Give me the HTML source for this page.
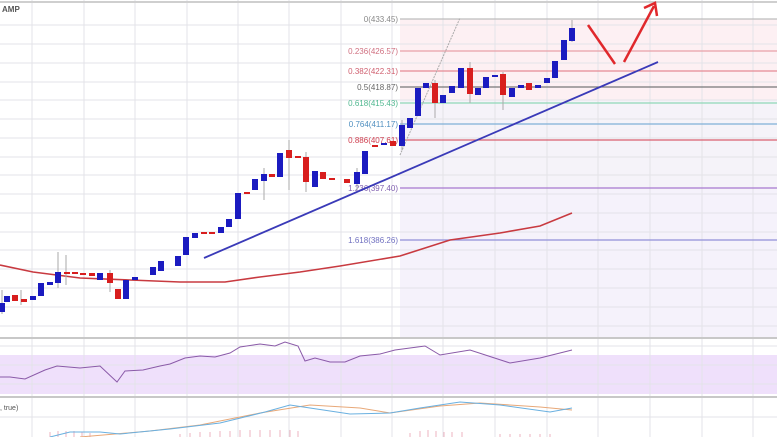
<!DOCTYPE html>
<html><head><meta charset="utf-8"><style>
html,body{margin:0;padding:0;background:#fff;}
svg{display:block;font-family:"Liberation Sans",sans-serif;}
</style></head><body>
<svg width="777" height="437" viewBox="0 0 777 437" xmlns="http://www.w3.org/2000/svg">
<rect width="777" height="437" fill="#fff"/>
<!-- fib shaded region -->
<rect x="400" y="19" width="377" height="318" fill="#fdf0f3"/>
<rect x="400" y="100" width="377" height="90" fill="#f1f4fb" opacity="0.7"/>
<rect x="400" y="190" width="377" height="147" fill="#f5f2fb"/>
<!-- RSI band -->
<rect x="0" y="355" width="777" height="39" fill="#efe0fb"/>
<!-- grid -->
<g stroke="#e3e3e8" stroke-width="1">
<line x1="32" y1="0" x2="32" y2="437"/><line x1="84" y1="0" x2="84" y2="437"/>
<line x1="135" y1="0" x2="135" y2="437"/><line x1="187" y1="0" x2="187" y2="437"/>
<line x1="238" y1="0" x2="238" y2="437"/><line x1="289" y1="0" x2="289" y2="437"/>
<line x1="341" y1="0" x2="341" y2="437"/><line x1="392" y1="0" x2="392" y2="437"/>
<line x1="443" y1="0" x2="443" y2="437"/><line x1="495" y1="0" x2="495" y2="437"/>
<line x1="547" y1="0" x2="547" y2="437"/><line x1="598" y1="0" x2="598" y2="437"/>
<line x1="650" y1="0" x2="650" y2="437"/><line x1="702" y1="0" x2="702" y2="437"/>
<line x1="753" y1="0" x2="753" y2="437"/>
<line x1="0" y1="25" x2="777" y2="25"/><line x1="0" y1="44" x2="777" y2="44"/>
<line x1="0" y1="63" x2="777" y2="63"/><line x1="0" y1="82" x2="777" y2="82"/>
<line x1="0" y1="100" x2="777" y2="100"/><line x1="0" y1="119" x2="777" y2="119"/>
<line x1="0" y1="138" x2="777" y2="138"/><line x1="0" y1="157" x2="777" y2="157"/>
<line x1="0" y1="175" x2="777" y2="175"/><line x1="0" y1="194" x2="777" y2="194"/>
<line x1="0" y1="213" x2="777" y2="213"/><line x1="0" y1="232" x2="777" y2="232"/>
<line x1="0" y1="250" x2="777" y2="250"/><line x1="0" y1="269" x2="777" y2="269"/>
<line x1="0" y1="288" x2="777" y2="288"/><line x1="0" y1="307" x2="777" y2="307"/>
<line x1="0" y1="326" x2="777" y2="326"/>
<line x1="0" y1="346" x2="777" y2="346"/><line x1="0" y1="365" x2="777" y2="365"/>
<line x1="0" y1="384" x2="777" y2="384"/><line x1="0" y1="417" x2="777" y2="417"/>
</g>
<line x1="0" y1="2" x2="777" y2="2" stroke="#cfcfcf" stroke-width="2"/>
<line x1="0" y1="338" x2="777" y2="338" stroke="#c8c8c8" stroke-width="2"/>
<line x1="0" y1="397" x2="777" y2="397" stroke="#c8c8c8" stroke-width="2"/>
<!-- fib lines -->
<g stroke-width="1.2">
<line x1="400" y1="19" x2="777" y2="19" stroke="#bdbdbd"/>
<line x1="400" y1="51" x2="777" y2="51" stroke="#e8a0a8"/>
<line x1="400" y1="71" x2="777" y2="71" stroke="#e58a95"/>
<line x1="400" y1="87" x2="777" y2="87" stroke="#777"/>
<line x1="400" y1="103" x2="777" y2="103" stroke="#8fd8b8"/>
<line x1="400" y1="124" x2="777" y2="124" stroke="#7fb0d8"/>
<line x1="400" y1="140" x2="777" y2="140" stroke="#d96070"/>
<line x1="400" y1="188" x2="777" y2="188" stroke="#a878d0"/>
<line x1="400" y1="240" x2="777" y2="240" stroke="#9090d8"/>
</g>
<g font-size="8" text-anchor="end">
<text x="398" y="22" fill="#888">0(433.45)</text>
<text x="398" y="54" fill="#d07080">0.236(426.57)</text>
<text x="398" y="74" fill="#d06070">0.382(422.31)</text>
<text x="398" y="90" fill="#666">0.5(418.87)</text>
<text x="398" y="106" fill="#50b890">0.618(415.43)</text>
<text x="398" y="127" fill="#5090c0">0.764(411.17)</text>
<text x="398" y="143" fill="#d04050">0.886(407.61)</text>
<text x="398" y="191" fill="#8060b0">1.236(397.40)</text>
<text x="398" y="243" fill="#7070c0">1.618(386.26)</text>
</g>
<text x="2" y="12" font-size="8" fill="#555" font-weight="bold">AMP</text>
<!-- dotted line -->
<line x1="400" y1="155" x2="460" y2="18" stroke="#aaa" stroke-width="1" stroke-dasharray="2,1"/>
<!-- MA -->
<polyline fill="none" stroke="#c83a40" stroke-width="1.6" points="0,265 33,272 80,278 130,280 180,282 225,282 260,277 300,272 340,266 400,256 450,240 500,233 540,226 572,213"/>
<!-- trend line -->
<line x1="204" y1="258" x2="658" y2="62" stroke="#3a3ab8" stroke-width="1.8"/>
<!-- arrows -->
<g stroke="#e0282c" stroke-width="2.5" fill="none">
<line x1="588" y1="25" x2="615" y2="64"/>
<line x1="624" y1="62" x2="654" y2="6"/>
<polyline points="644,8 655,3 657,16"/>
</g>
<!-- candles -->
<g stroke="#aaa" stroke-width="1">
<line x1="2" y1="290" x2="2" y2="314"/><line x1="21" y1="290" x2="21" y2="305"/>
<line x1="58" y1="252" x2="58" y2="288"/><line x1="66" y1="255" x2="66" y2="285"/>
<line x1="110" y1="270" x2="110" y2="292"/><line x1="289" y1="140" x2="289" y2="190"/>
<line x1="306" y1="152" x2="306" y2="192"/><line x1="264" y1="168" x2="264" y2="200"/>
<line x1="435" y1="80" x2="435" y2="118"/><line x1="470" y1="62" x2="470" y2="103"/>
<line x1="503" y1="72" x2="503" y2="110"/><line x1="572" y1="20" x2="572" y2="42"/>
<line x1="402" y1="120" x2="402" y2="150"/><line x1="357" y1="168" x2="357" y2="190"/>
</g>
<g fill="#1b1bc0">
<rect x="-1" y="303" width="6" height="9"/><rect x="4" y="296" width="6" height="6"/>
<rect x="30" y="296" width="6" height="4"/><rect x="38" y="283" width="6" height="13"/>
<rect x="47" y="282" width="6" height="3"/><rect x="55" y="272" width="6" height="11"/>
<rect x="97" y="273" width="6" height="7"/><rect x="123" y="280" width="6" height="19"/>
<rect x="132" y="277" width="6" height="3"/><rect x="150" y="267" width="6" height="8"/>
<rect x="158" y="261" width="6" height="10"/><rect x="175" y="256" width="6" height="10"/>
<rect x="183" y="237" width="6" height="18"/><rect x="192" y="233" width="6" height="5"/>
<rect x="218" y="227" width="6" height="6"/><rect x="226" y="219" width="6" height="8"/>
<rect x="235" y="193" width="6" height="26"/><rect x="252" y="179" width="6" height="11"/>
<rect x="261" y="174" width="6" height="7"/><rect x="277" y="153" width="6" height="24"/>
<rect x="312" y="171" width="6" height="16"/><rect x="354" y="172" width="6" height="12"/>
<rect x="362" y="151" width="6" height="23"/><rect x="381" y="143" width="6" height="2"/>
<rect x="399" y="125" width="6" height="21"/><rect x="407" y="118" width="6" height="10"/>
<rect x="415" y="88" width="6" height="28"/><rect x="423" y="83" width="6" height="5"/>
<rect x="440" y="95" width="6" height="8"/><rect x="449" y="86" width="6" height="7"/>
<rect x="458" y="68" width="6" height="20"/><rect x="475" y="88" width="6" height="7"/>
<rect x="483" y="77" width="6" height="11"/><rect x="492" y="75" width="6" height="2"/>
<rect x="509" y="88" width="6" height="9"/><rect x="518" y="85" width="6" height="3"/>
<rect x="535" y="85" width="6" height="3"/><rect x="544" y="78" width="6" height="5"/>
<rect x="552" y="61" width="6" height="17"/><rect x="561" y="40" width="6" height="20"/>
<rect x="569" y="28" width="6" height="13"/>
</g>
<g fill="#d81e1e">
<rect x="12" y="295" width="6" height="6"/><rect x="21" y="299" width="6" height="3"/>
<rect x="64" y="272" width="6" height="2"/><rect x="72" y="272" width="6" height="2"/>
<rect x="80" y="273" width="6" height="2"/><rect x="89" y="273" width="6" height="3"/>
<rect x="107" y="273" width="6" height="10"/><rect x="115" y="289" width="6" height="10"/>
<rect x="201" y="232" width="6" height="2"/><rect x="209" y="232" width="6" height="2"/>
<rect x="244" y="192" width="6" height="2"/><rect x="269" y="174" width="6" height="3"/>
<rect x="286" y="150" width="6" height="8"/><rect x="295" y="156" width="6" height="2"/>
<rect x="303" y="157" width="6" height="25"/><rect x="320" y="172" width="6" height="7"/>
<rect x="329" y="178" width="6" height="2"/><rect x="344" y="179" width="6" height="4"/>
<rect x="372" y="145" width="6" height="2"/><rect x="390" y="141" width="6" height="5"/>
<rect x="432" y="83" width="6" height="20"/><rect x="467" y="68" width="6" height="26"/>
<rect x="500" y="74" width="6" height="21"/><rect x="526" y="83" width="6" height="7"/>
</g>
<!-- RSI -->
<polyline fill="none" stroke="#8a5aa8" stroke-width="1" points="0,377 10,377 25,379 45,370 57,366 80,368 100,366 117,382 125,371 143,370 160,366 170,364 185,358 200,356 215,357 230,353 240,347 260,344 275,346 285,342 298,346 305,361 315,358 330,362 345,362 360,356 380,354 395,350 410,348 425,346 440,355 470,350 510,363 540,358 572,350"/>
<!-- MACD -->
<text x="0" y="410" font-size="7" fill="#555">, true)</text>
<g stroke="#e8a0b0" stroke-width="0.8">
<line x1="50" y1="437" x2="50" y2="432"/><line x1="58" y1="437" x2="58" y2="431"/><line x1="66" y1="437" x2="66" y2="431"/><line x1="74" y1="437" x2="74" y2="431"/><line x1="82" y1="437" x2="82" y2="432"/><line x1="90" y1="437" x2="90" y2="433"/>
<line x1="180" y1="437" x2="180" y2="434"/><line x1="190" y1="437" x2="190" y2="433"/><line x1="200" y1="437" x2="200" y2="432"/><line x1="210" y1="437" x2="210" y2="432"/><line x1="220" y1="437" x2="220" y2="431"/><line x1="230" y1="437" x2="230" y2="431"/><line x1="240" y1="437" x2="240" y2="430"/><line x1="250" y1="437" x2="250" y2="430"/><line x1="260" y1="437" x2="260" y2="430"/><line x1="270" y1="437" x2="270" y2="430"/><line x1="280" y1="437" x2="280" y2="430"/><line x1="290" y1="437" x2="290" y2="430"/><line x1="298" y1="437" x2="298" y2="431"/>
<line x1="410" y1="437" x2="410" y2="433"/><line x1="420" y1="437" x2="420" y2="431"/><line x1="428" y1="437" x2="428" y2="430"/><line x1="436" y1="437" x2="436" y2="431"/><line x1="444" y1="437" x2="444" y2="432"/><line x1="452" y1="437" x2="452" y2="432"/><line x1="462" y1="437" x2="462" y2="432"/>
<line x1="500" y1="437" x2="500" y2="434"/><line x1="510" y1="437" x2="510" y2="434"/><line x1="520" y1="437" x2="520" y2="434"/><line x1="530" y1="437" x2="530" y2="434"/><line x1="540" y1="437" x2="540" y2="434"/><line x1="550" y1="437" x2="550" y2="434"/>
</g>
<polyline fill="none" stroke="#e8a878" stroke-width="1" points="80,437 150,431 200,425 260,413 310,405 360,408 390,413 440,406 480,403 540,407 572,410"/>
<polyline fill="none" stroke="#6ab0e0" stroke-width="1" points="50,437 70,432 100,432 120,434 170,429 220,423 265,412 290,405 310,408 350,414 390,413 420,408 460,402 500,405 550,412 572,408"/>
</svg>
</body></html>
